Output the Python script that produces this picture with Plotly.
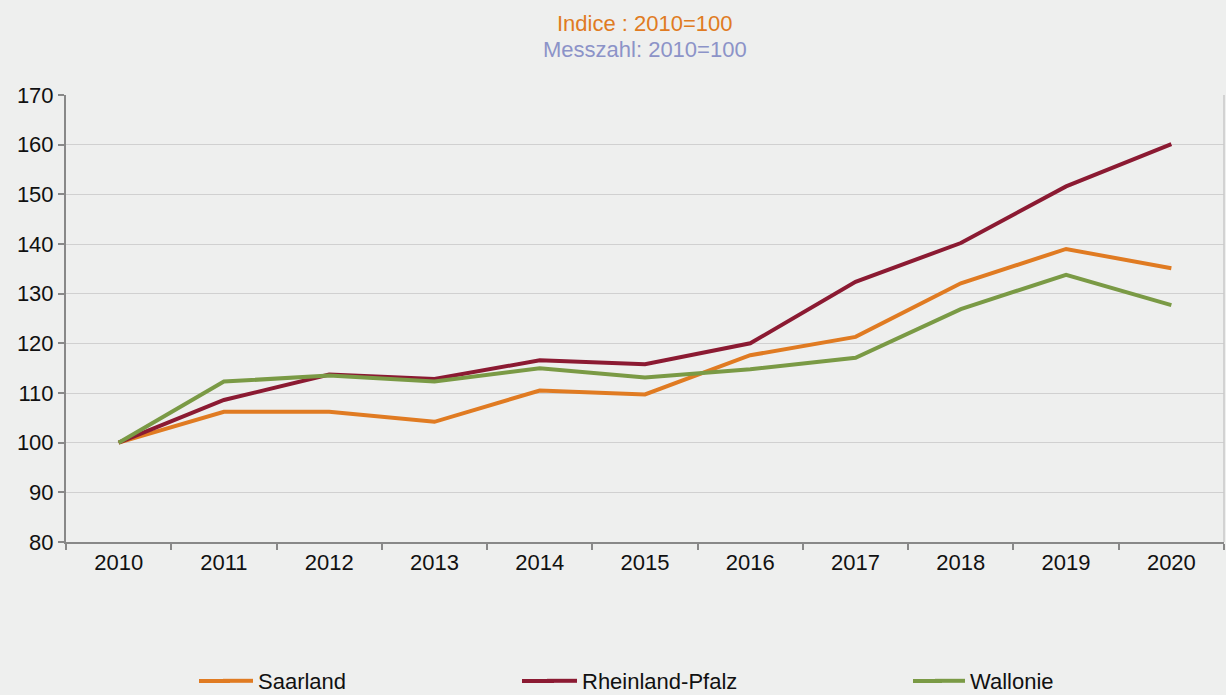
import plotly.graph_objects as go

years = ["2010", "2011", "2012", "2013", "2014", "2015", "2016", "2017", "2018", "2019", "2020"]
saarland = [100, 106.2, 106.2, 104.2, 110.5, 109.7, 117.6, 121.3, 132.1, 139.0, 135.1]
rheinland_pfalz = [100, 108.6, 113.7, 112.8, 116.6, 115.8, 120.0, 132.4, 140.2, 151.6, 160.1]
wallonie = [100, 112.3, 113.5, 112.3, 115.0, 113.1, 114.8, 117.1, 126.9, 133.8, 127.7]

series = [
    ("Saarland", saarland, "#E07B22", "legend"),
    ("Rheinland-Pfalz", rheinland_pfalz, "#8B1A32", "legend2"),
    ("Wallonie", wallonie, "#7A9A45", "legend3"),
]
# legend anchor (px) and legend line start (px) for each entry
legend_text_px = [218, 542, 930]
legend_line_start_px = [199, 522, 913]

FONT = "Liberation Sans, Arial, sans-serif"
FS = 22
W, H = 1226, 695
ml, mr, mt, mb = 66, 2, 95, 153
pw = W - ml - mr
ph = H - mt - mb
LEG_Y = 681

fig = go.Figure()
for name, vals, color, lg in series:
    fig.add_trace(go.Scatter(
        x=years, y=vals, name=name, mode="lines",
        line=dict(color=color, width=4),
        legend=lg,
    ))

def px_to_x(p):
    return (p - ml) / pw

def py_to_y(p):
    return (H - mb - p) / ph

legend_common = dict(
    orientation="h",
    font=dict(family=FONT, size=FS, color="#111111"),
    bgcolor="rgba(0,0,0,0)",
    yanchor="middle",
    xanchor="left",
    itemwidth=30,
    xref="container",
    yref="container",
)
legend_y = 1 - LEG_Y / H
fig.update_layout(
    legend=dict(x=legend_text_px[0] / W, y=legend_y, **legend_common),
    legend2=dict(x=legend_text_px[1] / W, y=legend_y, **legend_common),
    legend3=dict(x=legend_text_px[2] / W, y=legend_y, **legend_common),
)

shapes = [
    dict(type="line", xref="paper", yref="paper", x0=1, x1=1, y0=0, y1=1,
         line=dict(color="#C8C8C8", width=1.5)),
]
for (name, vals, color, lg), xs, xt in zip(series, legend_line_start_px, legend_text_px):
    shapes.append(dict(type="line", xref="paper", yref="paper",
                       x0=px_to_x(xs), x1=px_to_x(xt + 12),
                       y0=py_to_y(LEG_Y), y1=py_to_y(LEG_Y),
                       line=dict(color=color, width=4)))

fig.update_layout(
    width=W, height=H,
    autosize=False,
    margin=dict(l=ml, r=mr, t=mt, b=mb),
    paper_bgcolor="#EEEFEE",
    plot_bgcolor="#EEEFEE",
    font=dict(family=FONT, size=FS, color="#111111"),
    showlegend=True,
    xaxis=dict(
        type="category",
        tickson="boundaries",
        ticks="outside",
        ticklen=6,
        tickcolor="#888888",
        tickwidth=1.5,
        showline=True,
        linecolor="#888888",
        linewidth=2,
        showgrid=False,
        range=[-0.5, 10.5],
        tickfont=dict(family=FONT, size=FS, color="#111111"),
        zeroline=False,
    ),
    yaxis=dict(
        range=[80, 170],
        dtick=10,
        ticks="outside",
        ticklen=6,
        tickcolor="#888888",
        tickwidth=1.5,
        showline=True,
        linecolor="#888888",
        linewidth=2,
        showgrid=True,
        gridcolor="#D0D0D0",
        gridwidth=1,
        zeroline=False,
        tickfont=dict(family=FONT, size=FS, color="#111111"),
    ),
    shapes=shapes,
    annotations=[
        dict(text="Indice : 2010=100", x=0.5, xref="paper", y=py_to_y(23), yref="paper",
             showarrow=False, font=dict(family=FONT, size=FS, color="#E07B22"),
             xanchor="center", yanchor="middle"),
        dict(text="Messzahl: 2010=100", x=0.5, xref="paper", y=py_to_y(49), yref="paper",
             showarrow=False, font=dict(family=FONT, size=FS, color="#8C93C8"),
             xanchor="center", yanchor="middle"),
    ],
)

fig.write_html(
    "out.html",
    config={"responsive": False, "displayModeBar": False},
    post_script="document.body.style.margin='0';document.body.style.overflow='hidden';",
)
